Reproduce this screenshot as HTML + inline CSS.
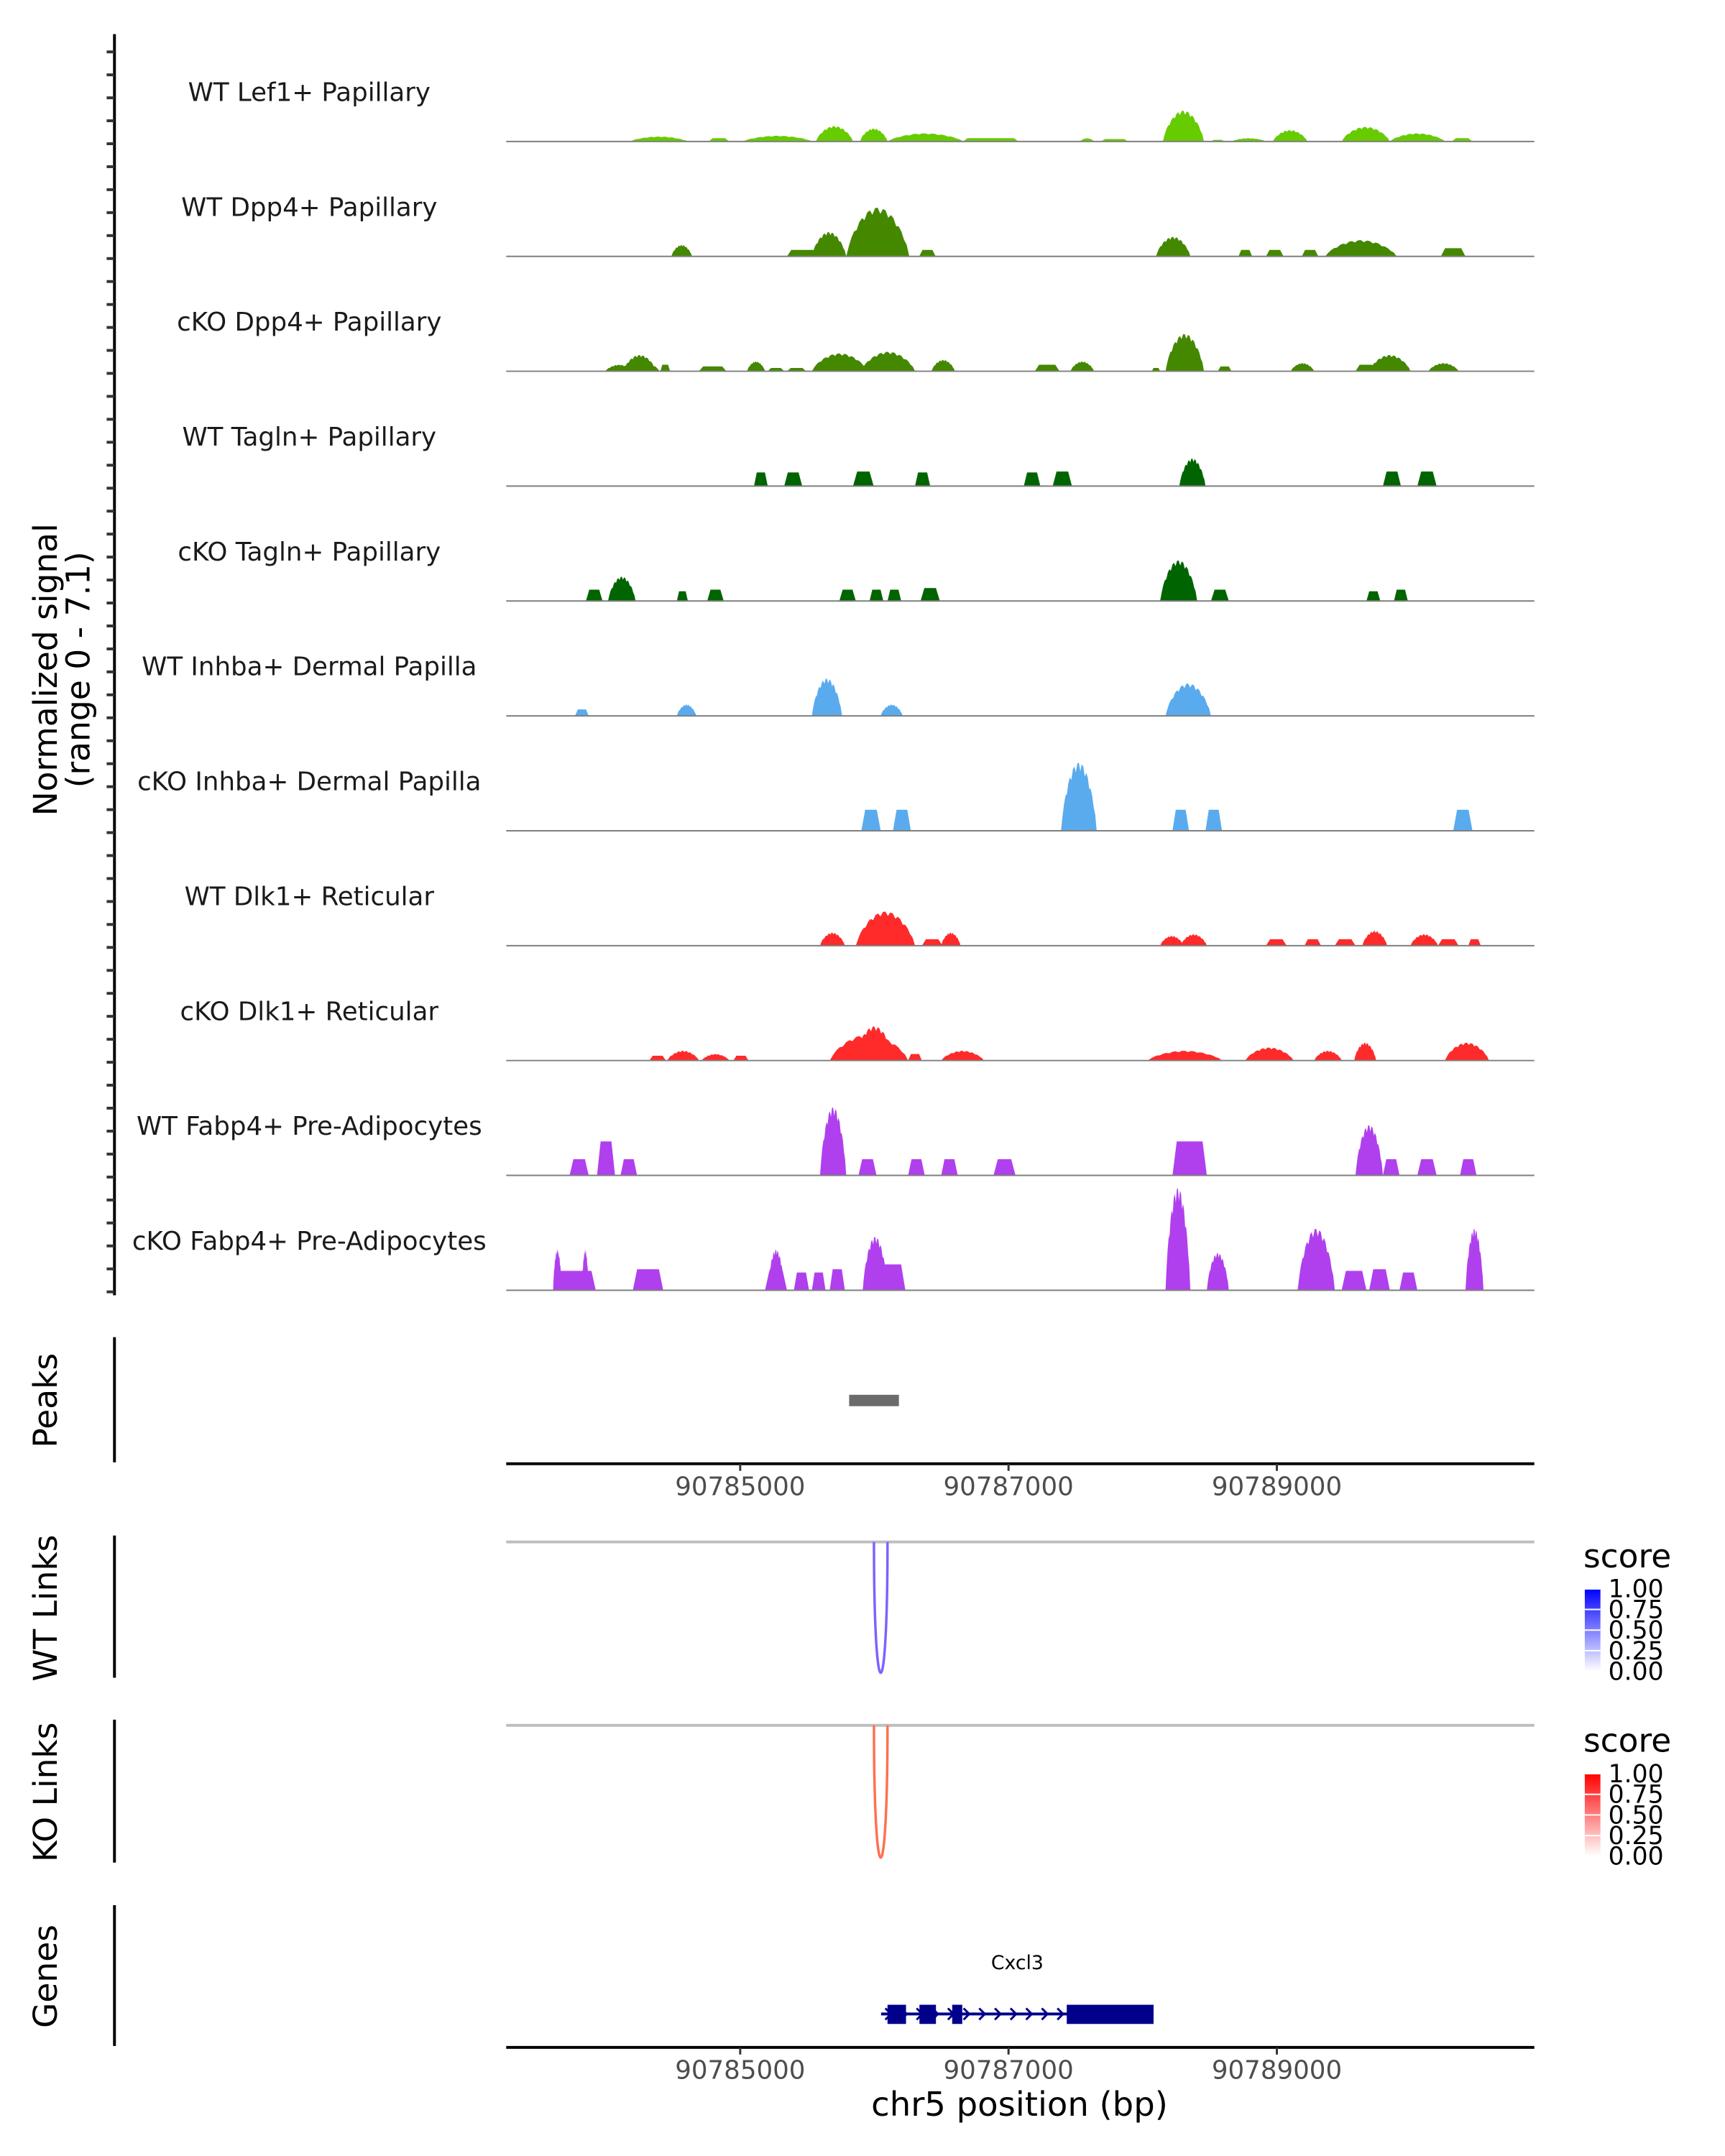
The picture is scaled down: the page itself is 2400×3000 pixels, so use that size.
<!DOCTYPE html>
<html><head><meta charset="utf-8">
<style>
html,body{margin:0;padding:0;background:#fff;}
svg{display:block;font-family:"DejaVu Sans","Liberation Sans",sans-serif;}
</style></head>
<body>
<svg id="chart" width="2400" height="3000" viewBox="0 0 2400 3000" xmlns="http://www.w3.org/2000/svg">
<defs>
<linearGradient id="gradWT" x1="0" y1="1" x2="0" y2="0"><stop offset="0" stop-color="#ffffff"/><stop offset="1" stop-color="#0000ff"/></linearGradient>
<linearGradient id="gradKO" x1="0" y1="1" x2="0" y2="0"><stop offset="0" stop-color="#ffffff"/><stop offset="1" stop-color="#ff0000"/></linearGradient>
</defs>
<g id="root" transform="scale(0.9892)">
<g id="tracks"></g>
<g id="axes"></g>
<text x="80" y="942" font-size="46" text-anchor="middle" transform="rotate(-90 80 942)" fill="#000">Normalized signal</text>
<text x="126" y="942" font-size="46" text-anchor="middle" transform="rotate(-90 126 942)" fill="#000">(range 0 - 7.1)</text>
<text x="64" y="1970" font-size="46" text-anchor="middle" dominant-baseline="central" transform="rotate(-90 64 1970)">Peaks</text>
<text x="64" y="2262" font-size="46" text-anchor="middle" dominant-baseline="central" transform="rotate(-90 64 2262)">WT Links</text>
<text x="64" y="2521" font-size="46" text-anchor="middle" dominant-baseline="central" transform="rotate(-90 64 2521)">KO Links</text>
<text x="64" y="2780" font-size="46" text-anchor="middle" dominant-baseline="central" transform="rotate(-90 64 2780)">Genes</text>
<text x="1434" y="2976" font-size="47" text-anchor="middle">chr5 position (bp)</text>
<g>
<text x="2227" y="2205" font-size="46">score</text>
<rect x="2229" y="2235" width="22" height="116" fill="url(#gradWT)"/>
</g>
<g>
<text x="2227" y="2464" font-size="46">score</text>
<rect x="2229" y="2495" width="22" height="116" fill="url(#gradKO)"/>
</g>
</g>
</svg>
<script>
// ---- data ----
const ORIGIN = 90785000;
const xDomain = [90783256, 90790919];
const xTicks = [90785000, 90787000, 90789000];
const yMax = 7.1;
const trackNames = ["WT Lef1+ Papillary","WT Dpp4+ Papillary","cKO Dpp4+ Papillary","WT Tagln+ Papillary","cKO Tagln+ Papillary","WT Inhba+ Dermal Papilla","cKO Inhba+ Dermal Papilla","WT Dlk1+ Reticular","cKO Dlk1+ Reticular","WT Fabp4+ Pre-Adipocytes","cKO Fabp4+ Pre-Adipocytes"];
const trackColors = ["#66cc00","#448800","#448800","#006400","#006400","#5aabee","#5aabee","#ff2a2a","#ff2a2a","#b040ee","#b040ee"];
// peaks: [start offset bp, end offset bp, signal, shape(0=block,1=bump)]
const lef1WT = [[-821,-390,0.3,1],[-236,-82,0.2,0],[21,534,0.35,1],[564,841,0.95,1],[893,1098,0.8,1],[1098,1662,0.5,1],[1662,2073,0.2,0],[2534,2637,0.2,1],[2688,2893,0.15,0],[3150,3457,1.9,1],[3509,3611,0.1,0],[3662,3919,0.2,1],[3970,4227,0.7,1],[4483,4842,0.9,1],[4842,5253,0.5,1],[5304,5458,0.2,0]];
const dpp4WT = [[-513,-359,0.7,1],[349,636,0.4,0],[534,790,1.5,1],[790,1260,3.0,1],[1334,1457,0.4,0],[3099,3355,1.2,1],[3714,3816,0.4,0],[3919,4050,0.4,0],[4186,4309,0.4,0],[4360,4893,1.0,1],[5222,5406,0.5,0]];
const dpp4KO = [[-1005,-800,0.4,1],[-760,-600,0.3,0],[-872,-626,1.0,1],[-595,-523,0.4,0],[-308,-103,0.3,0],[51,185,0.6,1],[205,328,0.2,0],[349,492,0.2,0],[534,950,1.1,1],[900,1303,1.2,1],[1426,1600,0.7,1],[2196,2380,0.4,0],[2462,2637,0.6,1],[3068,3130,0.2,0],[3170,3457,2.3,1],[3560,3662,0.3,0],[4104,4278,0.5,1],[4586,4740,0.4,0],[4688,4996,1.0,1],[5130,5355,0.5,1]];
const taglnWT = [[103,205,0.85,0],[328,462,0.85,0],[841,995,0.9,0],[1303,1416,0.85,0],[2114,2237,0.85,0],[2329,2473,0.9,0],[3273,3468,1.7,1],[4791,4925,0.9,0],[5047,5191,0.9,0]];
const taglnKO = [[-1150,-1026,0.7,0],[-985,-780,1.5,1],[-472,-390,0.6,0],[-246,-123,0.7,0],[739,862,0.7,0],[964,1067,0.7,0],[1098,1200,0.7,0],[1344,1488,0.8,0],[3130,3406,2.5,1],[3509,3642,0.7,0],[4668,4771,0.6,0],[4873,4976,0.7,0]];
const inhbaWT = [[-1231,-1129,0.4,0],[-472,-328,0.7,1],[534,759,2.3,1],[1047,1211,0.7,1],[3170,3509,2.0,1]];
const inhbaKO = [[903,1047,1.3,0],[1139,1272,1.3,0],[2391,2657,4.2,1],[3222,3345,1.3,0],[3468,3591,1.3,0],[5315,5458,1.3,0]];
const dlk1WT = [[595,780,0.8,1],[862,1303,2.1,1],[1354,1508,0.4,0],[1498,1642,0.8,1],[3130,3304,0.6,1],[3283,3478,0.7,1],[3919,4073,0.4,0],[4206,4329,0.4,0],[4432,4586,0.4,0],[4637,4822,0.9,1],[4996,5201,0.7,1],[5201,5355,0.4,0],[5427,5520,0.4,0]];
const dlk1KO = [[-677,-554,0.3,0],[-544,-308,0.6,1],[-287,-82,0.4,1],[-51,62,0.3,0],[667,1252,1.6,1],[850,1150,2.1,1],[1252,1354,0.4,0],[1498,1816,0.6,1],[3037,3591,0.6,1],[3765,4124,0.8,1],[4278,4483,0.6,1],[4576,4740,1.1,1],[5253,5581,1.1,1]];
const fabp4WT = [[-1272,-1129,1.0,0],[-1067,-933,2.1,0],[-892,-769,1.0,0],[595,790,4.2,1],[882,1016,1.0,0],[1252,1375,1.0,0],[1498,1621,1.0,0],[1888,2052,1.0,0],[3222,3478,2.1,0],[4586,4791,3.1,1],[4791,4914,1.0,0],[5047,5191,1.0,0],[5365,5488,1.0,0]];
const fabp4KO = [[-1395,-1077,1.2,0],[-1395,-1330,2.5,1],[-1180,-1130,2.5,1],[-800,-574,1.3,0],[185,349,1.2,0],[205,330,2.5,1],[400,513,1.1,0],[534,636,1.1,0],[667,780,1.3,0],[913,1231,1.6,0],[913,1100,3.3,1],[3170,3355,6.3,1],[3478,3642,2.3,1],[4155,4432,3.8,1],[4483,4668,1.2,0],[4688,4842,1.3,0],[4914,5047,1.1,0],[5406,5540,3.8,1]];
const trackPeaks = [lef1WT,dpp4WT,dpp4KO,taglnWT,taglnKO,inhbaWT,inhbaKO,dlk1WT,dlk1KO,fabp4WT,fabp4KO];
const peakRegions = [[90785812, 90786183]];
const wtLinks = [[90785997, 90786098, 0.6]];
const koLinks = [[90785997, 90786098, 0.6]];
const geneStart = [90786050], geneEnd = [90788081], geneName = ["Cxcl3"];
const exonStarts = [90786098, 90786336, 90786580, 90787434];
const exonEnds = [90786236, 90786459, 90786655, 90788081];
const legendTicks = ["1.00","0.75","0.50","0.25","0.00"];

// ---- layout ----
const NS = "http://www.w3.org/2000/svg";
const X0 = 712, X1 = 2158;
const firstBase = 199, trackStep = 161.6, trackH = 161.6;
function xs(bp){ return X0 + (bp - xDomain[0]) / (xDomain[1]-xDomain[0]) * (X1-X0); }
function ys(v, base){ return base - v / yMax * trackH; }
function mk(tag, attrs, parent){ const e=document.createElementNS(NS,tag); for(const k in attrs) e.setAttribute(k,attrs[k]); parent.appendChild(e); return e; }
const svg = document.getElementById('root');
const tracksG = document.getElementById('tracks');
const axesG = document.getElementById('axes');

trackNames.forEach((name,i)=>{
  const base = firstBase + i*trackStep;
  const g = mk('g',{},tracksG);
  
  
  const lbl = mk('text',{x:435,y:base-57,'font-size':36,'text-anchor':'middle',fill:'#1a1a1a'},g);
  lbl.textContent = name;
  
  
  trackPeaks[i].forEach(p=>{
    const a = xs(ORIGIN+p[0]), b = xs(ORIGIN+p[1]);
    let pts;
    if (p[3]===0){
      const s = Math.min(6,(b-a)*0.2);
      pts = [[a,base],[a+s,ys(p[2],base)],[b-s,ys(p[2],base)],[b,base]];
    } else {
      pts = [[a,base]];
      const n = 24;
      for(let k=0;k<=n;k++){
        const t=k/n; const v=p[2]*Math.pow(Math.sin(Math.PI*t),0.7)*(1-0.12*((k%3)===1));
        pts.push([a+(b-a)*t, ys(v,base)]);
      }
      pts.push([b,base]);
    }
    const poly = mk('polygon',{points:pts.map(q=>q[0].toFixed(1)+','+q[1].toFixed(1)).join(' '),fill:trackColors[i]},g);
    
    
  });
  const bl = mk('line',{x1:X0,x2:X1,y1:base,y2:base,stroke:'#7f7f7f','stroke-width':2},g);
  
  
});

const la = mk('line',{x1:161,x2:161,y1:48,y2:1822,stroke:'#000','stroke-width':4},axesG);


for(let y=73; y<1822; y+=32.3){
  const t = mk('line',{x1:150,x2:161,y1:y,y2:y,stroke:'#333','stroke-width':4},axesG);
  
  
}
[[1881,2057],[2160,2360],[2419,2620],[2680,2878]].forEach(r=>{
  const l = mk('line',{x1:161,x2:161,y1:r[0],y2:r[1],stroke:'#000','stroke-width':4},axesG);
  
  
});
peakRegions.forEach(p=>{
  const r = mk('rect',{x:xs(p[0]),y:1962,width:xs(p[1])-xs(p[0]),height:16,fill:'#6b6b6b'},svg);
  
  
});
[2059,2880].forEach((y,j)=>{
  const l = mk('line',{x1:X0,x2:X1,y1:y,y2:y,stroke:'#000','stroke-width':4},axesG);
  
  
  xTicks.forEach(v=>{
    const t = mk('line',{x1:xs(v),x2:xs(v),y1:y,y2:y+10,stroke:'#333','stroke-width':3},axesG);
    
    
    const tx = mk('text',{x:xs(v),y:y+44,'font-size':36,'text-anchor':'middle',fill:'#4d4d4d'},axesG);
    tx.textContent = String(v);
    
    
  });
});
function drawLinks(links, topY, depth, color, nm){
  const gl = mk('line',{x1:X0,x2:X1,y1:topY,y2:topY,stroke:'#bebebe','stroke-width':4},svg);
  
  
  links.forEach(l=>{
    const a=xs(l[0]), b=xs(l[1]); const cy = topY + depth*l[2]/0.6/0.75;
    const p = mk('path',{d:`M${a},${topY} C${a},${cy} ${b},${cy} ${b},${topY}`,fill:'none',stroke:color,'stroke-width':3.5},svg);
    
    
  });
}
drawLinks(wtLinks, 2169, 184, '#8060ff', 'wt-link');
drawLinks(koLinks, 2427, 186, '#ff7050', 'ko-link');
[[2235,'wt'],[2495,'ko']].forEach(([y0,nm])=>{
  legendTicks.forEach((t,k)=>{
    const yy = y0 + k*29;
    const tk = mk('line',{x1:2229,x2:2251,y1:yy,y2:yy,stroke:'#fff','stroke-width':2},svg);
    
    
    const tx = mk('text',{x:2262,y:yy+12,'font-size':35,fill:'#000'},svg);
    tx.textContent = t;
    
    
  });
});
geneStart.forEach((gs,i)=>{
  const a=xs(gs), b=xs(geneEnd[i]), y=2833;
  const line = mk('line',{x1:a,x2:b,y1:y,y2:y,stroke:'#00008b','stroke-width':4},svg);
  
  
  for(let x=a+6; x<b-10; x+=22){
    const ch = mk('path',{d:`M${x},${y-8} L${x+8},${y} L${x},${y+8}`,fill:'none',stroke:'#00008b','stroke-width':3},svg);
    
    
  }
  const nmT = mk('text',{x:(a+b)/2,y:2770,'font-size':27,'text-anchor':'middle',fill:'#000'},svg);
  nmT.textContent = geneName[i];
  
  
});
exonStarts.forEach((s,k)=>{
  const r = mk('rect',{x:xs(s),y:2820,width:xs(exonEnds[k])-xs(s),height:27,fill:'#00008b'},svg);
  
  
});
</script>
</body></html>
